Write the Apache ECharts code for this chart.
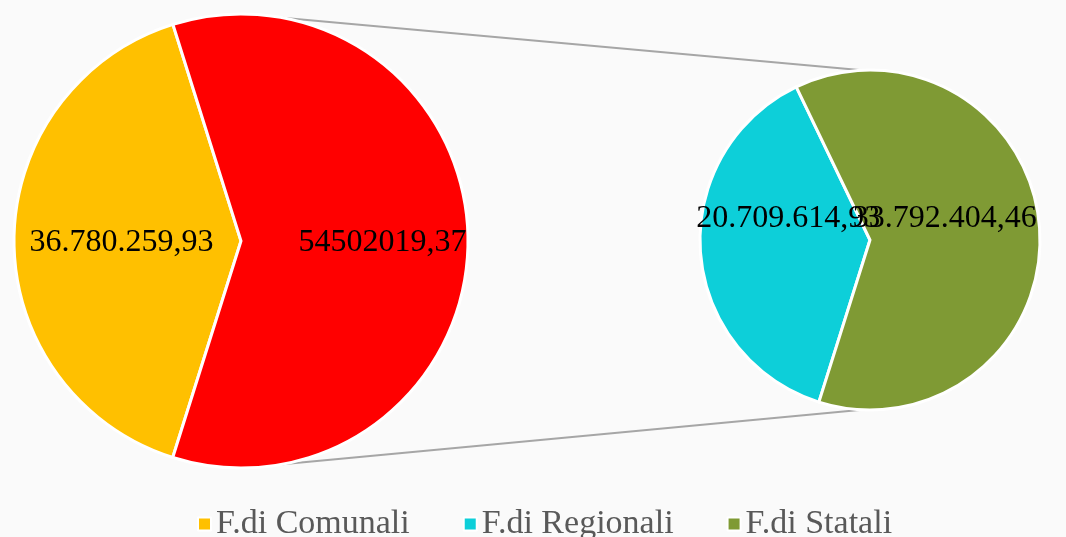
<!DOCTYPE html>
<html>
<head>
<meta charset="utf-8">
<style>
  html, body { margin: 0; padding: 0; background: #fafafa; }
  #chart { width: 1066px; height: 537px; }
</style>
<script src="https://cdn.jsdelivr.net/npm/echarts@6/dist/echarts.min.js"></script>
</head>
<body>
<div id="chart"></div>
<script>
// data
var categories = ['F.di Comunali', 'F.di Regionali', 'F.di Statali'];
var values = [36780259.93, 20709614.93, 33792404.46];
var otherName = 'Altro';
var otherValue = 54502019.37;
var colors = ['#FFC000', '#0DCFD9', '#7F9A34'];
var otherColor = '#FF0000';

(function() {
  var chart = echarts.init(document.getElementById('chart'), null, { renderer: 'canvas' });

  var font = 'Liberation Serif';
  var leftCenter = [241, 241], leftR = 227;
  var rightCenter = [870, 240], rightR = 170;

  // italian style: 36.780.259,93
  function fmt(v) {
    var parts = v.toFixed(2).split('.');
    return parts[0].replace(/\B(?=(\d{3})+(?!\d))/g, '.') + ',' + parts[1];
  }
  function fmtPlain(v) {
    return v.toFixed(2).replace('.', ',');
  }

  function labelStyle(text, offset) {
    return {
      show: true,
      position: 'inside',
      formatter: text,
      color: '#000',
      fontFamily: font,
      fontSize: 32,
      offset: offset
    };
  }

  function pt(c, r, deg) {
    var a = deg * Math.PI / 180;
    return [c[0] + r * Math.cos(a), c[1] - r * Math.sin(a)];
  }

  var common = {
    type: 'pie',
    startAngle: 252.5,
    clockwise: true,
    silent: true,
    avoidLabelOverlap: false,
    labelLayout: { hideOverlap: false },
    itemStyle: { borderColor: '#fff', borderWidth: 3 },
    labelLine: { show: false },
    emphasis: { disabled: true }
  };

  var leftPie = Object.assign({}, common, {
    center: leftCenter,
    radius: leftR,
    data: [
      { name: categories[0], value: values[0], itemStyle: { color: colors[0] },
        label: labelStyle(fmt(values[0]), [-3, 2]) },
      { name: otherName, value: otherValue, itemStyle: { color: otherColor },
        label: labelStyle(fmtPlain(otherValue), [25, 2]) }
    ]
  });

  var rightPie = Object.assign({}, common, {
    center: rightCenter,
    radius: rightR,
    data: [
      { name: categories[1], value: values[1], itemStyle: { color: colors[1] },
        label: labelStyle(fmt(values[1]), [6, -28]) },
      { name: categories[2], value: values[2], itemStyle: { color: colors[2] },
        label: labelStyle(fmt(values[2]), [-13, -15]) }
    ]
  });

  // connector lines between the two pies
  var lineStyle = { stroke: '#A6A6A6', lineWidth: 2 };
  var graphics = [
    { type: 'polyline', z: 0, shape: { points: [pt(leftCenter, leftR, 79.5), pt(rightCenter, rightR, 92.7)] }, style: lineStyle },
    { type: 'polyline', z: 0, shape: { points: [pt(leftCenter, leftR, -79.5), pt(rightCenter, rightR, -92.7)] }, style: lineStyle }
  ];

  chart.setOption({
    animation: false,
    backgroundColor: '#fafafa',
    color: colors,
    legend: {
      data: categories,
      left: 192,
      top: 502,
      icon: 'rect',
      itemWidth: 13,
      itemHeight: 13,
      itemGap: 53,
      selectedMode: false,
      textStyle: { color: '#595959', fontFamily: font, fontSize: 34 }
    },
    graphic: graphics,
    series: [leftPie, rightPie]
  });
})();
</script>
</body>
</html>
